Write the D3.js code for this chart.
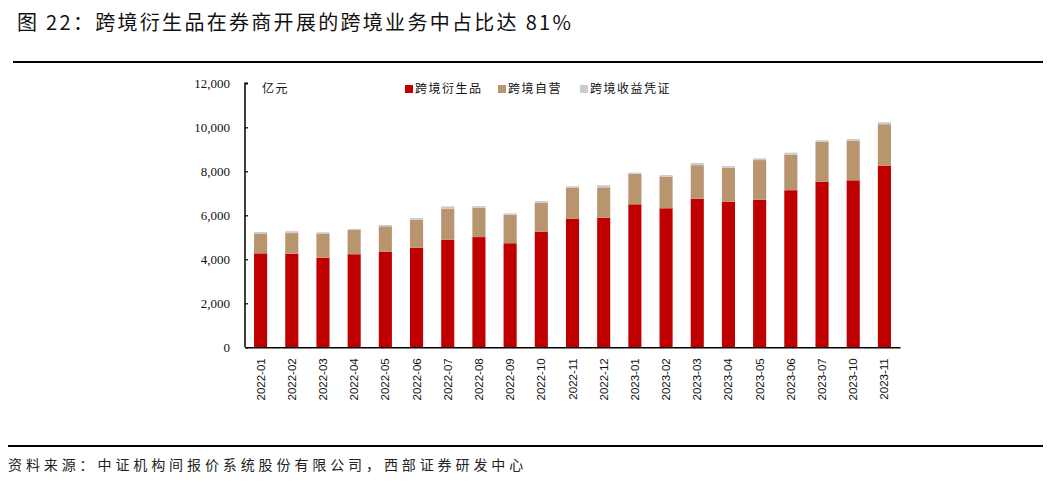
<!DOCTYPE html>
<html>
<head>
<meta charset="utf-8">
<script src="https://cdn.jsdelivr.net/npm/d3@7.9.0/dist/d3.min.js"></script>
<style>
  body { margin: 0; background: #fff; }
  svg { display: block; }
</style>
</head>
<body>
<svg id="chart" width="1055" height="482"></svg>
<script>
// data (亿元)
const months = ['2022-01', '2022-02', '2022-03', '2022-04', '2022-05', '2022-06', '2022-07',
  '2022-08', '2022-09', '2022-10', '2022-11', '2022-12', '2023-01', '2023-02', '2023-03',
  '2023-04', '2023-05', '2023-06', '2023-07', '2023-10', '2023-11'];
const derivatives = [4270, 4250, 4070, 4230, 4350, 4530, 4890, 5010, 4730, 5260, 5850,
  5890, 6500, 6320, 6750, 6620, 6710, 7140, 7530, 7590, 8260];
const proprietary = [880, 940, 1080, 1100, 1150, 1260, 1410, 1330, 1300, 1310, 1410,
  1380, 1390, 1440, 1530, 1540, 1800, 1620, 1820, 1800, 1880];
const notes = [90, 90, 80, 50, 60, 90, 110, 80, 60, 80, 60, 100, 50, 70, 100, 80, 80,
  90, 60, 80, 90];
const seriesNames = ['跨境衍生品', '跨境自营', '跨境收益凭证'];
const yTicks = [0, 2000, 4000, 6000, 8000, 10000, 12000];

const colors = ['#c00000', '#b8946f', '#cccccc'];
const cjk = '"Noto Sans CJK SC", sans-serif';

const svg = d3.select('#chart');

// title + rules
svg.append('text')
  .attr('x', 17).attr('y', 30)
  .attr('font-family', cjk).attr('font-size', 20).attr('letter-spacing', 2.3).attr('fill', '#111')
  .text('图 22：跨境衍生品在券商开展的跨境业务中占比达 81%');

svg.append('line')
  .attr('x1', 13).attr('x2', 1043).attr('y1', 62).attr('y2', 62)
  .attr('stroke', '#000').attr('stroke-width', 2);

svg.append('line')
  .attr('x1', 8).attr('x2', 1043).attr('y1', 446).attr('y2', 446)
  .attr('stroke', '#000').attr('stroke-width', 2);

svg.append('text')
  .attr('x', 8).attr('y', 470)
  .attr('font-family', cjk).attr('font-size', 14).attr('letter-spacing', 3.9).attr('fill', '#222')
  .text('资料来源：中证机构间报价系统股份有限公司，西部证券研发中心');

// plot area
const plotLeft = 245, plotRight = 900, plotTop = 83.3, plotBottom = 347.3;

const x = d3.scaleBand().domain(months).range([plotLeft, plotRight]).paddingInner(0.58).paddingOuter(0.29);
const y = d3.scaleLinear().domain([0, 12000]).range([plotBottom, plotTop]);

const rows = months.map((m, i) => ({
  month: m,
  [seriesNames[0]]: derivatives[i],
  [seriesNames[1]]: proprietary[i],
  [seriesNames[2]]: notes[i]
}));
const stacked = d3.stack().keys(seriesNames)(rows);

svg.append('g')
  .selectAll('g')
  .data(stacked)
  .join('g')
  .attr('fill', (d, i) => colors[i])
  .selectAll('rect')
  .data(d => d)
  .join('rect')
  .attr('x', d => x(d.data.month))
  .attr('width', x.bandwidth())
  .attr('y', d => y(d[1]))
  .attr('height', d => y(d[0]) - y(d[1]));

// y axis, ticks pointing inward
const yAxis = svg.append('g')
  .attr('transform', `translate(${plotLeft},0)`)
  .call(d3.axisRight(y).tickValues(yTicks).tickSize(3).tickFormat(d3.format(',')));
yAxis.select('.domain').attr('stroke', '#000').attr('stroke-width', 1.5).attr('d', `M3,${plotTop}H0V${plotBottom}`);
yAxis.selectAll('.tick line').attr('stroke', '#000').attr('stroke-width', 1.2);
yAxis.selectAll('.tick text')
  .attr('x', -15).attr('text-anchor', 'end')
  .attr('font-family', '"Liberation Serif", serif').attr('font-size', 13).attr('fill', '#111');

// x axis
const xAxis = svg.append('g')
  .attr('transform', `translate(0,${plotBottom})`)
  .call(d3.axisBottom(x).tickSize(0));
xAxis.select('.domain').attr('stroke', '#000').attr('stroke-width', 1.5);
xAxis.selectAll('.tick text')
  .attr('transform', 'rotate(-90)')
  .attr('x', -11).attr('y', 0).attr('dy', '0.35em')
  .attr('text-anchor', 'end')
  .attr('font-family', '"Liberation Sans", Arial, sans-serif').attr('font-size', 11.5).attr('fill', '#111');

// unit
svg.append('text')
  .attr('x', 262).attr('y', 93)
  .attr('font-family', cjk).attr('font-size', 12).attr('letter-spacing', 1.5).attr('fill', '#111')
  .text('亿元');

// legend
const legendX = [405, 498, 580];
const legend = svg.append('g').selectAll('g')
  .data(seriesNames)
  .join('g')
  .attr('transform', (d, i) => `translate(${legendX[i]},89)`);
legend.append('rect')
  .attr('x', 0).attr('y', -4).attr('width', 8).attr('height', 8)
  .attr('fill', (d, i) => colors[i]);
legend.append('text')
  .attr('x', 10).attr('y', 0).attr('dy', '0.35em')
  .attr('font-family', cjk).attr('font-size', 12).attr('letter-spacing', 1.5).attr('fill', '#111')
  .text(d => d);
</script>
</body>
</html>
